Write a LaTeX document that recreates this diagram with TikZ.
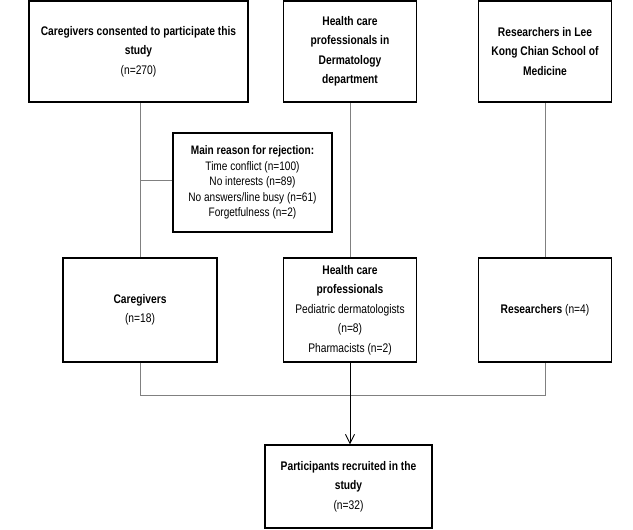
\documentclass[tikz,border=0pt]{standalone}
\usepackage{fontspec}
\setmainfont[FakeStretch=0.82]{Liberation Sans}
\usetikzlibrary{arrows.meta}
\tikzset{
  box/.style={draw=black, line width=1.3pt, fill=white, align=center, inner sep=2pt,
    font=\fontsize{12.5}{19.5}\selectfont},
  tightbox/.style={box, font=\fontsize{12.3}{15.6}\selectfont},
  conn/.style={draw=black!50, line width=0.9pt},
  mainconn/.style={draw=black, line width=0.9pt}
}
\begin{document}
\begin{tikzpicture}[x=1pt,y=-1pt]
\useasboundingbox (0,0) rectangle (633,530);
% top row
\node[box, minimum width=219pt, minimum height=101pt] (b1) at (138.5,51.5)
  {\textbf{Caregivers consented to participate this}\\\textbf{study}\\(n=270)};
\node[box, minimum width=133pt, minimum height=101pt] (b2) at (350,51.5)
  {\textbf{Health care}\\\textbf{professionals in}\\\textbf{Dermatology}\\\textbf{department}};
\node[box, minimum width=133pt, minimum height=101pt] (b3) at (545,51.5)
  {\textbf{Researchers in Lee}\\\textbf{Kong Chian School of}\\\textbf{Medicine}};
% rejection box
\node[tightbox, minimum width=159pt, minimum height=99pt] (rej) at (252.5,182.5)
  {\textbf{Main reason for rejection:}\\Time conflict (n=100)\\No interests (n=89)\\No answers/line busy (n=61)\\Forgetfulness (n=2)};
% middle row
\node[box, minimum width=154pt, minimum height=104pt] (cg) at (140,310)
  {\textbf{Caregivers}\\(n=18)};
\node[box, minimum width=133pt, minimum height=104pt, inner sep=1pt] (hcp) at (350,310)
  {\textbf{Health care}\\\textbf{professionals}\\Pediatric dermatologists\\(n=8)\\Pharmacists (n=2)};
\node[box, minimum width=133pt, minimum height=104pt] (rs) at (545,310)
  {\textbf{Researchers} (n=4)};
% bottom
\node[box, minimum width=167pt, minimum height=83pt] (part) at (348.5,486.5)
  {\textbf{Participants recruited in the}\\\textbf{study}\\(n=32)};
% connectors
\draw[conn] (cg.north) -- (cg.north |- b1.south);
\draw[conn] (hcp.north) -- (b2.south);
\draw[conn] (rs.north) -- (b3.south);
\coordinate (j) at (140,180);
\draw[conn] (j) -- (j -| rej.west);
\coordinate (bl) at (140,395);
\draw[conn] (cg.south) -- (bl) -- (bl -| rs.south) -- (rs.south);
\draw[mainconn, -{Straight Barb[length=9pt,width=9pt]}] (hcp.south) -- (hcp.south |- part.north);
\end{tikzpicture}
\end{document}
